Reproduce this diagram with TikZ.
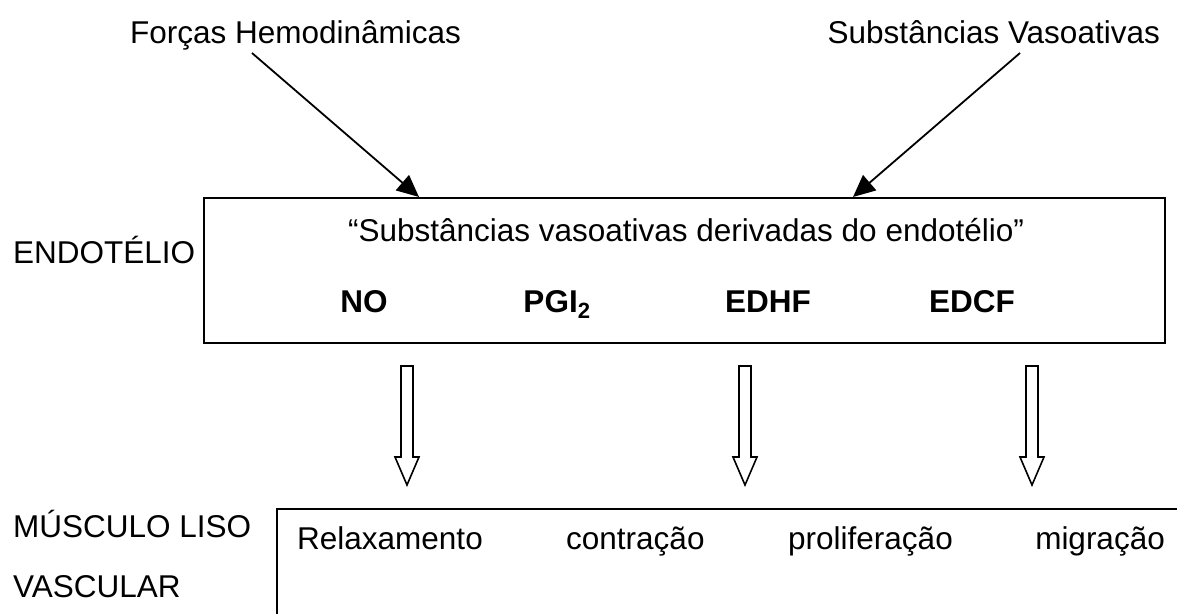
\documentclass[tikz,border=0pt]{standalone}
\usepackage{fontspec}
\setmainfont{Liberation Sans}
\usetikzlibrary{arrows.meta}
\newcommand\bigf{\fontsize{31.5}{38}\selectfont}
\tikzset{
  lbl/.style={inner sep=0pt, font=\bigf},
  bld/.style={inner sep=0pt, font=\bigf\bfseries, anchor=base},
  line/.style={line width=1.8pt},
  feed/.style={line width=1.8pt, -{Triangle[length=22pt,width=20pt]}},
  hollow/.pic={\draw[line width=1.6pt, line join=miter]
    (-6,0) -- (6,0) -- (6,91) -- (12,91) -- (0,119) -- (-12,91) -- (-6,91) -- cycle;}
}
\begin{document}
\begin{tikzpicture}[x=1pt,y=-1pt]
\useasboundingbox (0,0) rectangle (1177,614);
\fill[white] (0,0) rectangle (1177,614);

% top labels
\node[lbl, anchor=base west] (fh) at (130,43) {Forças Hemodinâmicas};
\node[lbl, anchor=base east] (sv) at (1160,43) {Substâncias Vasoativas};

% endothelium box
\node[draw, line width=1.8pt, minimum width=961pt, minimum height=145pt, anchor=north west, inner sep=0pt] (endo) at (203,197) {};
\node[lbl, anchor=base west] (endolbl) at (13,263) {ENDOTÉLIO};
\node[lbl, anchor=base] (quote) at (686,241) {“Substâncias vasoativas derivadas do endotélio”};
\node[bld] (no) at (364,312) {NO};
\node[bld] (pgi) at (557,312) {PGI\textsubscript{2}};
\node[bld] (edhf) at (768,312) {EDHF};
\node[bld] (edcf) at (972,312) {EDCF};

% feeding arrows
\coordinate (fhs) at (252,53);
\coordinate (svs) at (1020,53);
\coordinate (tipL) at (419,197);
\coordinate (tipR) at (853,197);
\draw[feed] (fhs) -- (tipL);
\draw[feed] (svs) -- (tipR);

% hollow arrows
\pic at (407,366) {hollow};
\pic at (745,366) {hollow};
\pic at (1032,366) {hollow};

% smooth muscle box (open)
\coordinate (mbl) at (277,614);
\coordinate (mtl) at (277,509);
\coordinate (mtr) at (1177,509);
\draw[line] (mbl) -- (mtl) -- (mtr);
\node[lbl, anchor=base west] (musc1) at (13,537) {MÚSCULO LISO};
\node[lbl, anchor=base west] (musc2) at (13,597) {VASCULAR};

\node[lbl, anchor=base west] (relax) at (297,549) {Relaxamento};
\node[lbl, anchor=base west] (contr) at (566,549) {contração};
\node[lbl, anchor=base west] (prolif) at (788,549) {proliferação};
\node[lbl, anchor=base east] (migr) at (1165,549) {migração};
\end{tikzpicture}
\end{document}
